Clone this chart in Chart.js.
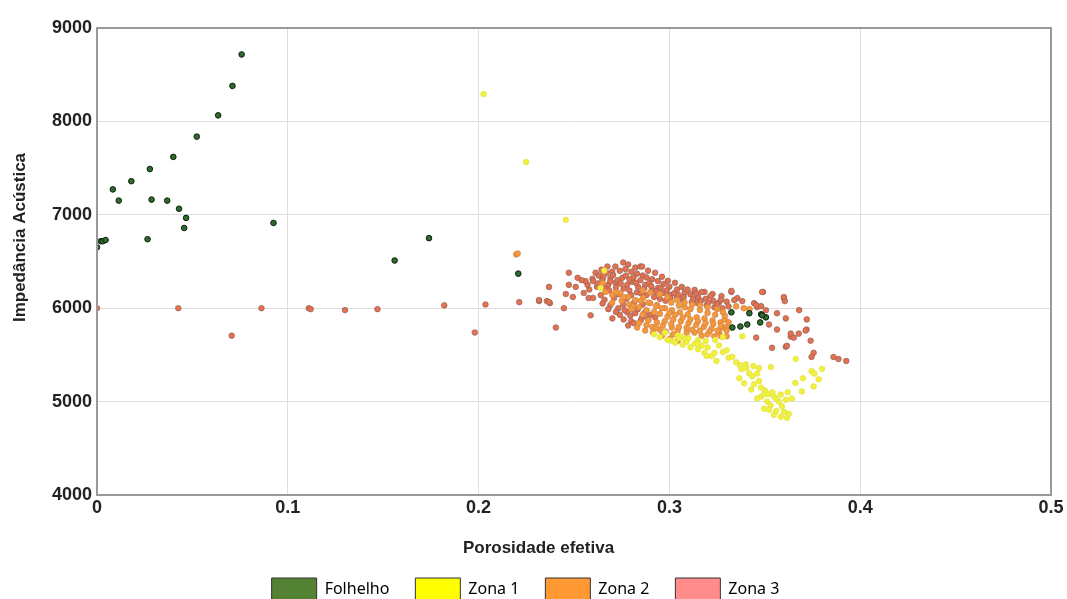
<!DOCTYPE html>
<html>
<head>
<meta charset="utf-8">
<script src="https://cdn.jsdelivr.net/npm/chart.js@4.4.0/dist/chart.umd.min.js"></script>
<style>
  html, body { margin: 0; padding: 0; background: #fff; }
  #wrap { width: 1067px; height: 599px; }
</style>
</head>
<body>
<div id="wrap"><canvas id="porosityCanvas" width="1067" height="599"></canvas></div>
<script>
// Porosidade efetiva (fração) x Impedância Acústica, por litologia

const seriesNames = ["Folhelho", "Zona 1", "Zona 2", "Zona 3"];
const legendColors = ["#548235", "#ffff00", "#ff9933", "#ff8b8b"];
const xTicks = [0, 0.1, 0.2, 0.3, 0.4, 0.5];
const yTicks = [4000, 5000, 6000, 7000, 8000, 9000];
const xTitle = "Porosidade efetiva";
const yTitle = "Impedância Acústica";

// Folhelho
const folhelho = [
  [0.0758, 8717], [0.0710, 8380], [0.0635, 8065], [0.0523, 7837], [0.0400, 7620],
  [0.0277, 7490], [0.0180, 7360], [0.0083, 7272], [0.0114, 7152], [0.0286, 7163],
  [0.0368, 7152], [0.0430, 7065], [0.0467, 6967], [0.0457, 6859], [0.0925, 6913],
  [0.0265, 6739], [0.0000, 6652], [0.0020, 6717], [0.0030, 6717], [0.0045, 6730],
  [0.1560, 6511], [0.1740, 6750], [0.2208, 6370],
  [0.3325, 5956], [0.3419, 5946], [0.3481, 5935], [0.3506, 5902], [0.3476, 5848],
  [0.3330, 5793], [0.3372, 5804], [0.3408, 5826], [0.3486, 5924]
];

// Zona 1
const zona1 = [
  [0.2026, 8293], [0.2249, 7565], [0.2457, 6946], [0.2659, 6402], [0.2639, 6217],
  [0.3132, 5619], [0.3184, 5522], [0.3221, 5489], [0.3247, 5435], [0.3195, 5489],
  [0.3236, 5522], [0.3169, 5598], [0.3081, 5674], [0.3044, 5706], [0.3013, 5652],
  [0.2977, 5739], [0.3100, 5680], [0.3150, 5660], [0.3190, 5650], [0.3240, 5660],
  [0.3280, 5690], [0.3060, 5700], [0.3382, 5700],
  [0.2950, 5690], [0.2990, 5660], [0.3030, 5630], [0.3070, 5610], [0.3110, 5580],
  [0.3150, 5560], [0.3200, 5580], [0.3260, 5600], [0.3280, 5530], [0.3310, 5470],
  [0.3150, 5620], [0.3050, 5680], [0.3090, 5640], [0.2920, 5720],
  [0.3300, 5550], [0.3330, 5480], [0.3350, 5420], [0.3370, 5390], [0.3400, 5400],
  [0.3440, 5380], [0.3377, 5348], [0.3403, 5359], [0.3418, 5304], [0.3366, 5250],
  [0.3392, 5196], [0.3434, 5272], [0.3470, 5359], [0.3532, 5370], [0.3460, 5300],
  [0.3470, 5220], [0.3444, 5185], [0.3429, 5130], [0.3480, 5150], [0.3500, 5120],
  [0.3481, 5054], [0.3496, 5076], [0.3460, 5033], [0.3512, 5000], [0.3520, 5080],
  [0.3540, 5100], [0.3548, 5054], [0.3584, 5076], [0.3574, 5000], [0.3560, 5030],
  [0.3530, 4960], [0.3496, 4924], [0.3522, 4913], [0.3560, 4900], [0.3548, 4858],
  [0.3584, 4837], [0.3616, 4826], [0.3626, 4869], [0.3590, 4950], [0.3600, 4890],
  [0.3642, 5033], [0.3610, 5020], [0.3620, 5100], [0.3694, 5109], [0.3660, 5200],
  [0.3700, 5250], [0.3756, 5163], [0.3782, 5239], [0.3745, 5326], [0.3760, 5300],
  [0.3800, 5350], [0.3662, 5456]
];

// Zona 2
const zona2 = [
  [0.2197, 6576], [0.2205, 6585],
  [0.2665, 6174], [0.2701, 6141], [0.2743, 6163], [0.2784, 6120], [0.2821, 6087],
  [0.2862, 6109], [0.2899, 6054], [0.2935, 6033], [0.2977, 6000], [0.3013, 5978],
  [0.3055, 5956], [0.3096, 5935], [0.3143, 5902], [0.3184, 5891], [0.3226, 5869],
  [0.3268, 5848],
  [0.2700, 6060], [0.2750, 6080], [0.2790, 6040], [0.2810, 6020], [0.2840, 6010],
  [0.2880, 5980], [0.2920, 5960], [0.2950, 5940], [0.2990, 5910], [0.3020, 5880],
  [0.3060, 5860], [0.3100, 5840], [0.3140, 5820], [0.3180, 5800], [0.3220, 5780],
  [0.3260, 5740], [0.3300, 5700], [0.3300, 5800], [0.3290, 5880],
  [0.2935, 5848], [0.2966, 5815], [0.3013, 5793], [0.3044, 5761], [0.3091, 5739],
  [0.3132, 5739], [0.3169, 5706], [0.3210, 5750], [0.3252, 5761], [0.3278, 5793],
  [0.2840, 5840], [0.2880, 5820], [0.2910, 5800], [0.2950, 5770], [0.2980, 5750],
  [0.3020, 5720], [0.2831, 5793], [0.2873, 5761], [0.2914, 5739], [0.2961, 5706],
  [0.3003, 5674], [0.3044, 5652],
  [0.3010, 6060], [0.3050, 6030], [0.3080, 6010], [0.3110, 5990], [0.3160, 5980],
  [0.3200, 5950], [0.3240, 5930], [0.3290, 5920],
  [0.2850, 6080], [0.2890, 6060], [0.2930, 6020], [0.2960, 6000], [0.3000, 5950],
  [0.3030, 5930], [0.3070, 5900], [0.3110, 5880], [0.3150, 5860], [0.3190, 5840],
  [0.3230, 5830], [0.3270, 5810], [0.3300, 5760], [0.3310, 5850], [0.3280, 5960],
  [0.3250, 5990], [0.3200, 6010], [0.3160, 6030], [0.3120, 6040], [0.3080, 6060],
  [0.3040, 6090], [0.2990, 6120], [0.2950, 6150], [0.2900, 6170], [0.2860, 6190],
  [0.2975, 5860], [0.3010, 5830], [0.3050, 5800], [0.3090, 5790], [0.3120, 5770],
  [0.3160, 5760], [0.3200, 5720], [0.3235, 5700], [0.3270, 5700], [0.2930, 5790],
  [0.2890, 5870], [0.2860, 5930], [0.2800, 5990], [0.2760, 6120], [0.2720, 6170],
  [0.2650, 6270],
  [0.3350, 6020], [0.3390, 6000], [0.3420, 5990]
];

// Zona 3
const zona3 = [
  [0.0000, 6000], [0.0426, 6000], [0.0706, 5706], [0.0862, 6000], [0.1110, 6000],
  [0.1120, 5990], [0.1300, 5980], [0.1470, 5990], [0.1820, 6030], [0.1980, 5740],
  [0.2036, 6040],
  [0.2213, 6065], [0.2317, 6076], [0.2358, 6076], [0.2374, 6054], [0.2473, 6380],
  [0.2519, 6326], [0.2597, 6315], [0.2649, 6315], [0.2369, 6228], [0.2473, 6250],
  [0.2509, 6228], [0.2571, 6250], [0.2457, 6152], [0.2494, 6120], [0.2551, 6163],
  [0.2577, 6109], [0.2317, 6087], [0.2369, 6065], [0.2447, 6000], [0.2587, 5924],
  [0.2691, 6033], [0.2701, 5891], [0.2405, 5793], [0.2784, 5815], [0.2665, 6217],
  [0.2613, 6380], [0.2644, 6413], [0.2675, 6446], [0.2717, 6446], [0.2758, 6489],
  [0.2784, 6467], [0.2821, 6435], [0.2847, 6446], [0.2857, 6446], [0.2888, 6402],
  [0.2925, 6380], [0.2961, 6337], [0.2992, 6293], [0.3029, 6272], [0.3065, 6228],
  [0.3132, 6196], [0.3184, 6174], [0.3226, 6152], [0.3273, 6130], [0.3325, 6174],
  [0.3356, 6109],
  [0.2630, 6350], [0.2670, 6380], [0.2700, 6390], [0.2740, 6400], [0.2770, 6420],
  [0.2800, 6390], [0.2830, 6370], [0.2860, 6350], [0.2880, 6330], [0.2910, 6310],
  [0.2940, 6290], [0.2970, 6260], [0.3000, 6230], [0.3040, 6200], [0.3080, 6170],
  [0.3110, 6150], [0.3150, 6120], [0.3190, 6100], [0.3230, 6080], [0.3260, 6060],
  [0.3300, 6070],
  [0.2649, 6304], [0.2691, 6326], [0.2717, 6272], [0.2753, 6326], [0.2779, 6250],
  [0.2805, 6283], [0.2836, 6228], [0.2873, 6250], [0.2909, 6196], [0.2940, 6217],
  [0.2966, 6163], [0.3003, 6141], [0.3039, 6109], [0.3070, 6087], [0.3117, 6065],
  [0.3148, 6054], [0.3195, 6033], [0.3236, 6011], [0.3278, 6000],
  [0.2620, 6230], [0.2680, 6250], [0.2720, 6220], [0.2760, 6210], [0.2790, 6190],
  [0.2830, 6170], [0.2850, 6160], [0.2880, 6140], [0.2920, 6120], [0.2950, 6100],
  [0.2980, 6080],
  [0.2732, 6000], [0.2779, 5956], [0.2821, 5946], [0.2857, 5902], [0.2888, 5891],
  [0.2760, 5880], [0.2800, 5860],
  [0.2600, 6290], [0.2625, 6265], [0.2655, 6350], [0.2690, 6290], [0.2705, 6355],
  [0.2728, 6300], [0.2745, 6265], [0.2772, 6350], [0.2790, 6310], [0.2812, 6330],
  [0.2825, 6270], [0.2848, 6300], [0.2868, 6210], [0.2895, 6270], [0.2905, 6235],
  [0.2930, 6180], [0.2955, 6220], [0.2985, 6190], [0.3005, 6110], [0.3025, 6160],
  [0.3048, 6140], [0.3075, 6120], [0.3095, 6200], [0.3125, 6100], [0.3140, 6160],
  [0.3165, 6080], [0.3205, 6060], [0.3215, 6130], [0.3250, 6040], [0.3270, 6090],
  [0.3310, 6020], [0.2640, 6140], [0.2660, 6090], [0.2685, 6190], [0.2710, 6110],
  [0.2735, 6150], [0.2758, 6040], [0.2775, 6100], [0.2800, 6140], [0.2815, 6060],
  [0.2835, 5990], [0.2860, 6040], [0.2870, 5950], [0.2900, 5930], [0.2925, 5900],
  [0.2740, 5930], [0.2765, 5980], [0.2795, 5920], [0.2850, 5870], [0.2815, 5840],
  [0.2720, 5960], [0.2680, 5990], [0.2650, 6050], [0.2600, 6110], [0.2580, 6200],
  [0.2560, 6290], [0.2540, 6300],
  [0.3325, 6185], [0.3491, 6174], [0.3600, 6109], [0.3605, 6076], [0.3564, 5946],
  [0.3610, 5891], [0.3522, 5826], [0.3564, 5772], [0.3636, 5696], [0.3652, 5685],
  [0.3678, 5728], [0.3719, 5772], [0.3455, 5685], [0.3538, 5576], [0.3610, 5587],
  [0.3740, 5652], [0.3756, 5522], [0.3745, 5478], [0.3860, 5478], [0.3886, 5456],
  [0.3927, 5435], [0.3169, 6174], [0.3340, 6087], [0.3382, 6076], [0.3486, 6174],
  [0.3600, 6120], [0.3444, 6054], [0.3460, 6011], [0.3636, 5728], [0.3714, 5761],
  [0.3616, 5598], [0.3455, 6033], [0.3481, 6022], [0.3506, 5978], [0.3680, 5980],
  [0.3720, 5880]
];

const toPoints = (pairs) => pairs.map(([x, y]) => ({ x, y }));

const fontFamily = "'Liberation Sans', Arial, sans-serif";

// Moldura da área do gráfico e títulos dos eixos
const plotFrame = {
  id: "plotFrame",
  afterDraw(chart) {
    const { ctx, chartArea } = chart;
    ctx.save();
    ctx.strokeStyle = "#9a9a9a";
    ctx.lineWidth = 2;
    ctx.strokeRect(chartArea.left, chartArea.top, chartArea.right - chartArea.left, chartArea.bottom - chartArea.top);

    ctx.fillStyle = "#222";
    ctx.font = `bold 17px ${fontFamily}`;
    ctx.textAlign = "center";
    ctx.textBaseline = "middle";
    ctx.fillText(xTitle, chart.width / 2 + 5, chartArea.bottom + 53);

    ctx.translate(20, (chartArea.top + chartArea.bottom) / 2 - 24);
    ctx.rotate(-Math.PI / 2);
    ctx.fillText(yTitle, 0, 0);
    ctx.restore();
  },
};

const pointStyle = (bg, border) => ({
  backgroundColor: bg,
  borderColor: border,
  borderWidth: 1,
  pointRadius: 2.8,
  pointHoverRadius: 3,
});

const data = {
  datasets: [
    { label: seriesNames[3], data: toPoints(zona3), ...pointStyle("#e6714d", "rgba(150,100,95,0.75)"), order: 4 },
    { label: seriesNames[2], data: toPoints(zona2), ...pointStyle("#f39a3b", "rgba(215,130,70,0.8)"), order: 3 },
    { label: seriesNames[1], data: toPoints(zona1), ...pointStyle("#f1f03a", "rgba(225,225,80,0.7)"), order: 2 },
    { label: seriesNames[0], data: toPoints(folhelho), ...pointStyle("#2f6b2f", "#0d1f0d"), order: 1 },
  ],
};

const tickFont = { family: fontFamily, size: 18, weight: "bold" };

new Chart(document.getElementById("porosityCanvas"), {
  type: "scatter",
  data,
  options: {
    responsive: false,
    animation: false,
    layout: { padding: { left: 0, right: 16, top: 28, bottom: -11 } },
    plugins: {
      legend: {
        position: "bottom",
        labels: {
          boxWidth: 45,
          boxHeight: 22,
          padding: 26,
          color: "#222",
          font: { family: "'Noto Sans', sans-serif", size: 16 },
          generateLabels: () =>
            seriesNames.map((name, i) => ({
              text: name,
              fillStyle: legendColors[i],
              strokeStyle: "#333",
              lineWidth: 1,
              hidden: false,
              datasetIndex: 3 - i,
            })),
        },
      },
      tooltip: { enabled: false },
    },
    scales: {
      x: {
        type: "linear",
        min: 0,
        max: 0.5,
        afterBuildTicks: (axis) => { axis.ticks = xTicks.map((v) => ({ value: v })); },
        afterFit: (axis) => { axis.height = 57; },
        ticks: {
          color: "#222",
          font: tickFont,
          padding: 2,
          callback: (v) => (v === 0 ? "0" : v.toFixed(1)),
        },
        grid: { color: "#dedede", lineWidth: 1, drawTicks: false },
        border: { display: true, color: "#9a9a9a", width: 2 },
      },
      y: {
        type: "linear",
        min: 4000,
        max: 9000,
        afterBuildTicks: (axis) => { axis.ticks = yTicks.map((v) => ({ value: v })); },
        afterFit: (axis) => { axis.width = 97; },
        ticks: { color: "#222", font: tickFont, padding: 5, callback: (v) => String(v) },
        grid: { color: "#dedede", lineWidth: 1, drawTicks: false },
        border: { display: true, color: "#9a9a9a", width: 2 },
      },
    },
  },
  plugins: [plotFrame],
});
</script>
</body>
</html>
